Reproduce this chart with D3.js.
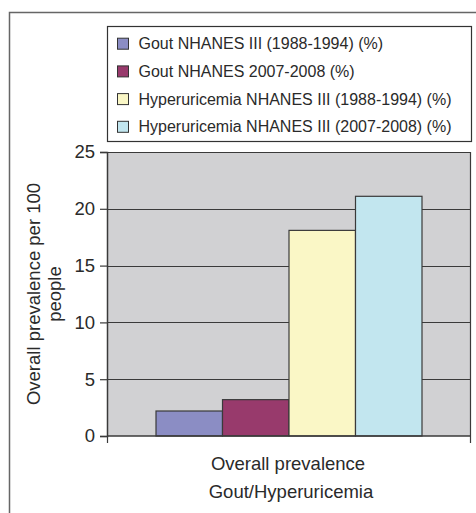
<!DOCTYPE html>
<html>
<head>
<meta charset="utf-8">
<script src="https://cdn.jsdelivr.net/npm/d3@7"></script>
<style>
  body { margin: 0; background: #fff; }
  svg { display: block; font-family: "Liberation Sans", Arial, sans-serif; }
</style>
</head>
<body>
<svg id="chart" width="476" height="513"></svg>
<script>
// chart data
var category = "Overall prevalence";
var seriesNames = [
	"Gout NHANES III (1988-1994) (%)",
	"Gout NHANES 2007-2008 (%)",
	"Hyperuricemia NHANES III (1988-1994) (%)",
	"Hyperuricemia NHANES III (2007-2008) (%)"
];
var seriesValues = [2.2, 3.2, 18.1, 21.1];
var colors = ["#8b8dc4", "#983a6c", "#faf7c6", "#c2e6ef"];
var yTicks = [0, 5, 10, 15, 20, 25];

var svg = d3.select("#chart");

// outer frame (only top and left show in the picture)
svg.append("path")
	.attr("d", "M9.5,520 V12.5 H480")
	.attr("fill", "none")
	.attr("stroke", "#666")
	.attr("stroke-width", 1.5);

var margin = {top: 152, right: 5, bottom: 77, left: 107},
	width = 476 - margin.left - margin.right,
	height = 513 - margin.top - margin.bottom;

var g = svg.append("g")
	.attr("transform", "translate(" + margin.left + "," + margin.top + ")");

var y = d3.scaleLinear().domain([0, 25]).range([height, 0]);
var x0 = d3.scaleBand().domain([category]).range([0, width]);
var x1 = d3.scaleBand().domain(seriesNames)
	.range([49, width - 49]).paddingInner(0);

// plot background
g.append("rect")
	.attr("width", width)
	.attr("height", height)
	.attr("fill", "#d1d1d3");

// gridlines
g.selectAll(".grid")
	.data(yTicks.filter(function(d) { return d > 0; }))
	.enter().append("line")
		.attr("x1", 0)
		.attr("x2", width)
		.attr("y1", function(d) { return Math.round(y(d)) + 0.5; })
		.attr("y2", function(d) { return Math.round(y(d)) + 0.5; })
		.attr("stroke", "#3a3a3a")
		.attr("stroke-width", 1.2);

// right border of the plot
g.append("line")
	.attr("x1", width - 0.5).attr("x2", width - 0.5)
	.attr("y1", 0).attr("y2", height)
	.attr("stroke", "#3a3a3a")
	.attr("stroke-width", 1.2);

// bars
g.selectAll(".bar")
	.data(seriesValues)
	.enter().append("rect")
		.attr("class", "bar")
		.attr("x", function(d, i) { return x0(category) + x1(seriesNames[i]); })
		.attr("y", function(d) { return y(d); })
		.attr("width", x1.bandwidth())
		.attr("height", function(d) { return height - y(d); })
		.attr("fill", function(d, i) { return colors[i]; })
		.attr("stroke", "#3a3a3a")
		.attr("stroke-width", 1.2);

// y axis
var yAxis = g.append("g")
	.call(d3.axisLeft(y).tickValues(yTicks).tickSize(7).tickPadding(5));
yAxis.select(".domain").attr("stroke", "#3a3a3a").attr("stroke-width", 1.5);
yAxis.selectAll(".tick line").attr("stroke", "#3a3a3a").attr("stroke-width", 1.2);
yAxis.selectAll("text")
	.attr("font-size", 18.5)
	.attr("fill", "#2a2a2a")
	.attr("font-family", "Liberation Sans, Arial, sans-serif");

// x axis with ticks at the band edges
var xAxis = g.append("g")
	.attr("transform", "translate(0," + height + ")");
xAxis.append("line")
	.attr("x1", 0).attr("x2", width)
	.attr("stroke", "#3a3a3a").attr("stroke-width", 1.5);
xAxis.selectAll(".edge")
	.data([0, width])
	.enter().append("line")
		.attr("x1", function(d) { return d === 0 ? 0.5 : d - 0.5; })
		.attr("x2", function(d) { return d === 0 ? 0.5 : d - 0.5; })
		.attr("y1", 0).attr("y2", 7)
		.attr("stroke", "#3a3a3a").attr("stroke-width", 1.2);
xAxis.append("text")
	.attr("x", x0(category) + x0.bandwidth() / 2 - 1)
	.attr("y", 34)
	.attr("text-anchor", "middle")
	.attr("font-size", 18.5)
	.attr("fill", "#2a2a2a")
	.text(category);

// axis titles
svg.append("text")
	.attr("x", 291)
	.attr("y", 497.5)
	.attr("text-anchor", "middle")
	.attr("font-size", 18.5)
	.attr("fill", "#2a2a2a")
	.text("Gout/Hyperuricemia");

var yTitle = svg.append("text")
	.attr("transform", "translate(40," + (margin.top + height / 2) + ") rotate(-90)")
	.attr("text-anchor", "middle")
	.attr("font-size", 18.5)
	.attr("fill", "#2a2a2a");
yTitle.append("tspan").attr("x", 0).attr("dy", 0).text("Overall prevalence per 100");
yTitle.append("tspan").attr("x", 0).attr("dy", 21).text("people");

// legend
var legendHolder = svg.append("g")
	.attr("transform", "translate(107.5,26.5)");
legendHolder.append("rect")
	.attr("width", 364)
	.attr("height", 115)
	.attr("fill", "#fff")
	.attr("stroke", "#333")
	.attr("stroke-width", 1.2);

var legend = legendHolder.selectAll(".legend")
	.data(seriesNames)
	.enter().append("g")
		.attr("class", "legend")
		.attr("transform", function(d, i) { return "translate(10," + (17.2 + i * 27.7) + ")"; });

legend.append("rect")
	.attr("x", 0)
	.attr("y", -5.5)
	.attr("width", 11)
	.attr("height", 11)
	.attr("fill", function(d, i) { return colors[i]; })
	.attr("stroke", "#333")
	.attr("stroke-width", 1);

legend.append("text")
	.attr("x", 21)
	.attr("dy", ".35em")
	.attr("font-size", 16)
	.attr("fill", "#2a2a2a")
	.text(function(d) { return d; });
</script>
</body>
</html>
